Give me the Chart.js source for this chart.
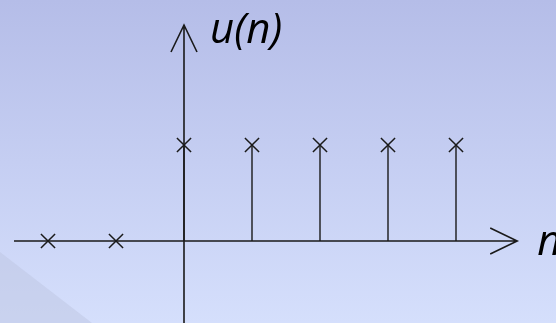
<!DOCTYPE html>
<html>
<head>
<meta charset="utf-8">
<script src="https://cdn.jsdelivr.net/npm/chart.js@4/dist/chart.umd.min.js"></script>
<style>
  html, body { margin: 0; padding: 0; }
  body { width: 556px; height: 323px; overflow: hidden; }
  #wrap { position: relative; width: 556px; height: 323px; }
</style>
</head>
<body>
<div id="wrap"><canvas id="stemChart" width="556" height="323"></canvas></div>
<script>
// u(n) - bước nhảy đơn vị
const nValues = [-2, -1, 0, 1, 2, 3, 4];
const uValues = [0, 0, 1, 1, 1, 1, 1];
const yLabel = "u(n)";
const xLabel = "n";

const ink = "#1a1a1a";

// nền gradient + tam giác góc trái
const bgPlugin = {
  id: "bg",
  beforeDraw(chart) {
    const { ctx, width, height } = chart;
    ctx.save();
    const g = ctx.createLinearGradient(0, 0, 0, height);
    g.addColorStop(0, "#b5bde8");
    g.addColorStop(1, "#d5dffc");
    ctx.fillStyle = g;
    ctx.fillRect(0, 0, width, height);
    ctx.beginPath();
    ctx.moveTo(0, 252);
    ctx.lineTo(92, height);
    ctx.lineTo(0, height);
    ctx.closePath();
    ctx.fillStyle = "rgba(190,198,225,0.5)";
    ctx.fill();
    ctx.restore();
  },
};

// trục, mũi tên, thân (stem), nhãn
const axesPlugin = {
  id: "stemAxes",
  beforeDatasetsDraw(chart) {
    const { ctx, height } = chart;
    const x = chart.scales.x, y = chart.scales.y;
    const x0 = x.getPixelForValue(0), y0 = y.getPixelForValue(0);
    const xl = x.getPixelForValue(-2.5), xr = x.getPixelForValue(4.9);
    const yt = y.getPixelForValue(2.25);
    ctx.save();
    ctx.strokeStyle = ink;
    ctx.lineWidth = 1.6;
    ctx.beginPath();
    ctx.moveTo(xl, y0); ctx.lineTo(xr, y0);
    ctx.moveTo(x0, height); ctx.lineTo(x0, yt);
    // mũi tên
    ctx.moveTo(xr - 27, y0 - 13); ctx.lineTo(xr, y0); ctx.lineTo(xr - 27, y0 + 13);
    ctx.moveTo(x0 - 13, yt + 27); ctx.lineTo(x0, yt); ctx.lineTo(x0 + 13, yt + 27);
    ctx.stroke();
    // stems
    ctx.lineWidth = 1.4;
    ctx.beginPath();
    nValues.forEach((n, i) => {
      if (uValues[i] === 0) return;
      const px = x.getPixelForValue(n);
      ctx.moveTo(px, y0);
      ctx.lineTo(px, y.getPixelForValue(uValues[i]));
    });
    ctx.stroke();
    // labels
    ctx.fillStyle = "#000";
    ctx.font = "italic 42px 'Open Sans', sans-serif";
    ctx.textBaseline = "alphabetic";
    ctx.fillText(yLabel, x0 + 26, yt + 18);
    ctx.fillText(xLabel, xr + 20, y0 + 14);
    ctx.restore();
  },
};

const pxPerN = 68, pxPerU = 96, originX = 184, originY = 241;

new Chart(document.getElementById("stemChart"), {
  type: "scatter",
  data: {
    datasets: [
      {
        data: nValues.map((n, i) => ({ x: n, y: uValues[i] })),
        pointStyle: "crossRot",
        pointRadius: 10,
        pointBorderWidth: 1.5,
        borderColor: ink,
        backgroundColor: ink,
        showLine: false,
      },
    ],
  },
  options: {
    responsive: false,
    animation: false,
    layout: { padding: 0, autoPadding: false },
    plugins: {
      legend: { display: false },
      tooltip: { enabled: false },
    },
    scales: {
      x: {
        type: "linear",
        display: false,
        min: -originX / pxPerN,
        max: (556 - originX) / pxPerN,
      },
      y: {
        type: "linear",
        display: false,
        min: -(323 - originY) / pxPerU,
        max: originY / pxPerU,
      },
    },
  },
  plugins: [bgPlugin, axesPlugin],
});
</script>
</body>
</html>
